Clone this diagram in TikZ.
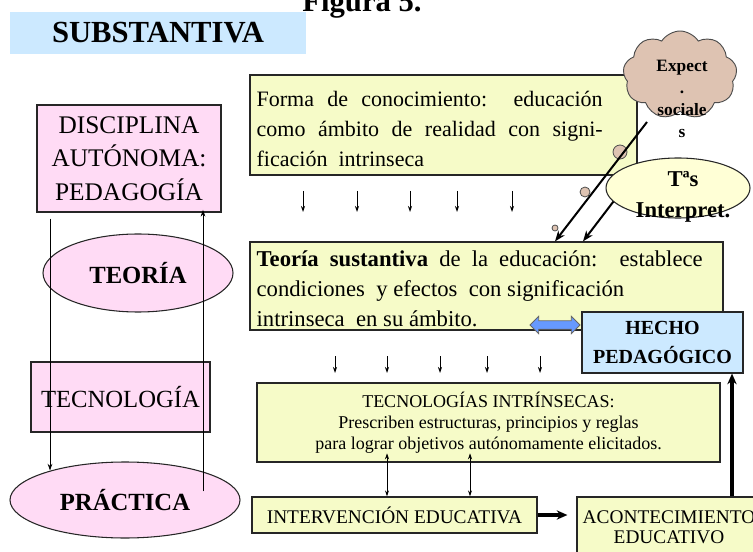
\documentclass[tikz,border=0pt]{standalone}
\usepackage{fontspec}
\setmainfont{Liberation Serif}
\usetikzlibrary{shapes.geometric,shapes.symbols,shapes.arrows,arrows.meta}

\definecolor{pinkfill}{RGB}{255,219,245}
\definecolor{yellowfill}{RGB}{246,251,200}
\definecolor{bluefill}{RGB}{204,233,255}
\definecolor{cloudfill}{RGB}{222,195,178}
\definecolor{ovalfill}{RGB}{255,255,214}
\definecolor{arrowblue}{RGB}{102,153,255}

\begin{document}
\begin{tikzpicture}[x=0.75pt,y=0.75pt,yscale=-1,xscale=1,
  pinkbox/.style={draw=black!85,fill=pinkfill,line width=0.8pt,inner sep=0pt},
  pinkoval/.style={ellipse,draw=black!85,fill=pinkfill,line width=0.8pt,inner sep=0pt},
  yellowbox/.style={draw=black!85,fill=yellowfill,line width=0.9pt,inner sep=0pt},
  bluebox/.style={draw=black!85,fill=bluefill,line width=0.9pt,inner sep=0pt},
  bodytext/.style={anchor=west,inner sep=0pt,align=justify,font=\fontsize{16.5}{22.5}\selectfont},
  tickarrow/.style={-{Stealth[length=4.5pt,width=3pt]},line width=0.6pt},
  thinarrow/.style={-{Stealth[length=5pt,width=3.5pt]},line width=0.6pt},
  slantarrow/.style={-{Stealth[length=8pt,width=6pt]},line width=1.5pt},
  boldarrow/.style={-{Stealth[length=8pt,width=7pt]},line width=2.4pt},
  bubble/.style={draw=black!70,fill=cloudfill,line width=0.6pt}]
\useasboundingbox (0,0) rectangle (753,552);

% Title
\draw (362,12) node (figura) [anchor=base,font=\fontsize{23}{26}\selectfont\bfseries] {Figura 5.};
\draw (158,33) node (subst) [fill=bluefill,minimum width=222pt,minimum height=31.5pt,font=\fontsize{23}{26}\selectfont\bfseries] {SUBSTANTIVA};

%Left column
\draw (129,158.5) node (disc) [pinkbox,minimum width=138pt,minimum height=80.25pt,align=center,font=\fontsize{19}{25}\selectfont] {DISCIPLINA\\AUTÓNOMA:\\PEDAGOGÍA};
\draw (138,273) node (teoria) [pinkoval,minimum width=142.5pt,minimum height=58.5pt,font=\fontsize{18.5}{22}\selectfont\bfseries] {TEORÍA};
\draw (120.5,397) node (tecno) [pinkbox,minimum width=134.25pt,minimum height=52.5pt,font=\fontsize{18.5}{22}\selectfont] {TECNOLOGÍA};
\draw (125,500) node (practica) [pinkoval,minimum width=172.5pt,minimum height=57pt,font=\fontsize{18.5}{22}\selectfont\bfseries] {PRÁCTICA};

\draw [thinarrow,shorten <=4.5pt,shorten >=-6.75pt] (disc.south -| 50,0) -- (practica.north -| 50,0);
\draw [thinarrow,shorten <=-22.5pt,shorten >=-2pt] (practica.north -| 203,0) -- (disc.south -| 203,0);

%Forma de conocimiento
\draw (443.5,125) node (forma) [yellowbox,minimum width=290.25pt,minimum height=75pt] {};
\draw (forma.west) node (formatxt) [bodytext,xshift=5.25pt,yshift=-3pt,text width=259.5pt]
  {Forma de conocimiento:\ \ educación\linebreak como ámbito\ de realidad\ con signi-\linebreak ficación\ \ intrinseca};

%Expectativas sociales
\draw (680,75) node (expect) [cloud,cloud puffs=9,cloud puff arc=115,aspect=1.3,draw=black!70,fill=cloudfill,line width=0.7pt,minimum width=85.5pt,minimum height=66pt,inner sep=0pt] {};
\draw (682,99) node (expecttxt) [align=center,font=\fontsize{13}{16.5}\selectfont\bfseries] {Expect\\.\\sociale\\s};
\draw [bubble] (620,152) circle [radius=5.25pt];
\draw [bubble] (585,192) circle [radius=3.75pt];
\draw [bubble] (555,228) circle [radius=2.25pt];

%Teorias interpretativas
\draw (678,188) node (tas) [ellipse,draw=black!85,fill=ovalfill,line width=0.8pt,minimum width=108pt,minimum height=45pt,inner sep=0pt] {};
\draw (683,197) node (tastxt) [align=center,font=\fontsize{17}{23}\selectfont\bfseries] {Tªs\\Interpret.};

%Teoria sustantiva
\draw (486.5,286) node (teosus) [yellowbox,minimum width=354.75pt,minimum height=66pt] {};
\draw (teosus.west) node (teosustxt) [bodytext,xshift=5.25pt,yshift=-2pt,text width=334.5pt,font=\fontsize{17}{22.5}\selectfont]
  {\textbf{Teoría sustantiva} de la educación:\ \ establece\linebreak condiciones\ \ y efectos\ \ con significación\\ intrinseca\ \ en su ámbito.};

\coordinate (cloudfoot) at (647,122);
\draw [slantarrow] (cloudfoot) -- (teosus.north -| 555,0);
\draw [slantarrow] (tas.192) -- (teosus.north -| 583,0);

\foreach \xx in {303,357,410,457,512}
  \draw [tickarrow] (\xx,191) -- (\xx,212);

%Hecho pedagogico
\draw (662.5,342.5) node (hecho) [bluebox,minimum width=120.75pt,minimum height=45.75pt,align=center,font=\fontsize{15}{22}\selectfont\bfseries] {HECHO\\PEDAGÓGICO};
\draw (555,325) node (vinculo) [double arrow,draw=black!60,fill=arrowblue,line width=0.6pt,minimum height=37.5pt,minimum width=13pt,double arrow head extend=3pt,inner sep=2.5pt] {};

\foreach \xx in {335,387,440,487,540}
  \draw [tickarrow] (\xx,356) -- (\xx,373);

%Tecnologias intrinsecas
\draw (488.5,422.5) node (tecint) [yellowbox,minimum width=347.25pt,minimum height=59.25pt,align=center,font=\fontsize{13.5}{15.75}\selectfont]
  {TECNOLOGÍAS INTRÍNSECAS:\\Prescriben estructuras, principios y reglas\\para lograr objetivos autónomamente elicitados.};

\draw (394.5,515) node (interv) [yellowbox,minimum width=213.75pt,minimum height=27pt,font=\fontsize{14.5}{16}\selectfont] {INTERVENCIÓN EDUCATIVA};
\draw (669,527) node (acont) [yellowbox,minimum width=138pt,minimum height=45pt,align=center,font=\fontsize{14.5}{15}\selectfont] {ACONTECIMIENTO\\EDUCATIVO};

\foreach \xx in {387,470}
  \draw [{Stealth[length=4.5pt,width=3pt]}-{Stealth[length=4.5pt,width=3pt]},line width=0.6pt,shorten <=-7pt] (tecint.south -| \xx,0) -- (interv.north -| \xx,0);

\draw [boldarrow,shorten >=6.75pt] (interv.east) -- (acont.west |- interv.east);
\draw [boldarrow,line width=3pt] (acont.north -| 732,0) -- (hecho.south -| 732,0);

\end{tikzpicture}
\end{document}
